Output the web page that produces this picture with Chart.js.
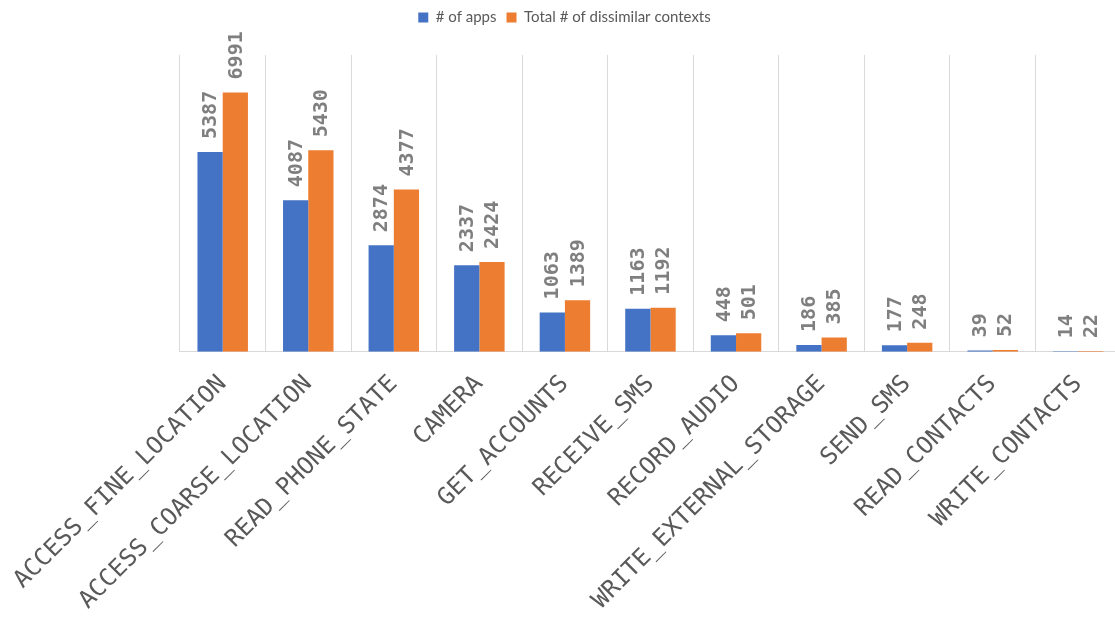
<!DOCTYPE html>
<html>
<head>
<meta charset="utf-8">
<script src="https://cdn.jsdelivr.net/npm/chart.js@4.4.1/dist/chart.umd.min.js"></script>
<style>
  html, body { margin: 0; padding: 0; background: #fff; overflow: hidden; }
  #wrap { width: 1121px; height: 618px; position: relative; }
</style>
</head>
<body>
<div id="wrap"><canvas id="permChart"></canvas></div>
<script>
const permissions = [
  'ACCESS_FINE_LOCATION', 'ACCESS_COARSE_LOCATION', 'READ_PHONE_STATE', 'CAMERA',
  'GET_ACCOUNTS', 'RECEIVE_SMS', 'RECORD_AUDIO', 'WRITE_EXTERNAL_STORAGE',
  'SEND_SMS', 'READ_CONTACTS', 'WRITE_CONTACTS'
];
const appCounts = [5387, 4087, 2874, 2337, 1063, 1163, 448, 186, 177, 39, 14];
const contextCounts = [6991, 5430, 4377, 2424, 1389, 1192, 501, 385, 248, 52, 22];

const MONO = '"DejaVu Sans Mono", monospace';

// vertical value labels above each bar
const barValueLabels = {
  id: 'barValueLabels',
  afterDatasetsDraw(chart) {
    const ctx = chart.ctx;
    ctx.save();
    ctx.fillStyle = '#7f7f7f';
    ctx.font = 'bold 20px ' + MONO;
    ctx.textAlign = 'left';
    ctx.textBaseline = 'middle';
    chart.data.datasets.forEach((ds, i) => {
      chart.getDatasetMeta(i).data.forEach((bar, j) => {
        ctx.save();
        ctx.translate(bar.x + 1, bar.y - 13);
        ctx.rotate(-Math.PI / 2);
        ctx.fillText(String(ds.data[j]), 0, 0);
        ctx.restore();
      });
    });
    ctx.restore();
  }
};

// extra space between the legend and the plot
const legendGap = {
  id: 'legendGap',
  beforeInit(chart) {
    const fit = chart.legend.fit;
    chart.legend.fit = function () {
      fit.bind(chart.legend)();
      this.height += 20;
    };
  }
};

new Chart(document.getElementById('permChart'), {
  type: 'bar',
  data: {
    labels: permissions,
    datasets: [
      { label: '# of apps', data: appCounts, backgroundColor: '#4472C4', barPercentage: 1, categoryPercentage: 0.59 },
      { label: 'Total # of dissimilar contexts', data: contextCounts, backgroundColor: '#ED7D31', barPercentage: 1, categoryPercentage: 0.59 }
    ]
  },
  options: {
    responsive: true,
    maintainAspectRatio: false,
    animation: false,
    layout: { padding: { top: 0, right: 0, bottom: 0, left: 8 } },
    plugins: {
      legend: {
        position: 'top',
        labels: {
          boxWidth: 10,
          boxHeight: 10,
          padding: 10,
          color: '#595959',
          font: { family: 'Lato, sans-serif', size: 15 }
        }
      },
      tooltip: { enabled: false }
    },
    scales: {
      x: {
        grid: { color: '#d9d9d9', drawTicks: false, offset: true },
        border: { color: '#d9d9d9' },
        ticks: {
          autoSkip: false,
          minRotation: 45,
          maxRotation: 45,
          padding: 18,
          color: '#595959',
          font: { family: MONO, size: 24 }
        },
        afterFit(scale) {
          scale.height -= 15;
        }
      },
      y: {
        display: false,
        min: 0,
        max: 8000
      }
    }
  },
  plugins: [barValueLabels, legendGap]
});
</script>
</body>
</html>
